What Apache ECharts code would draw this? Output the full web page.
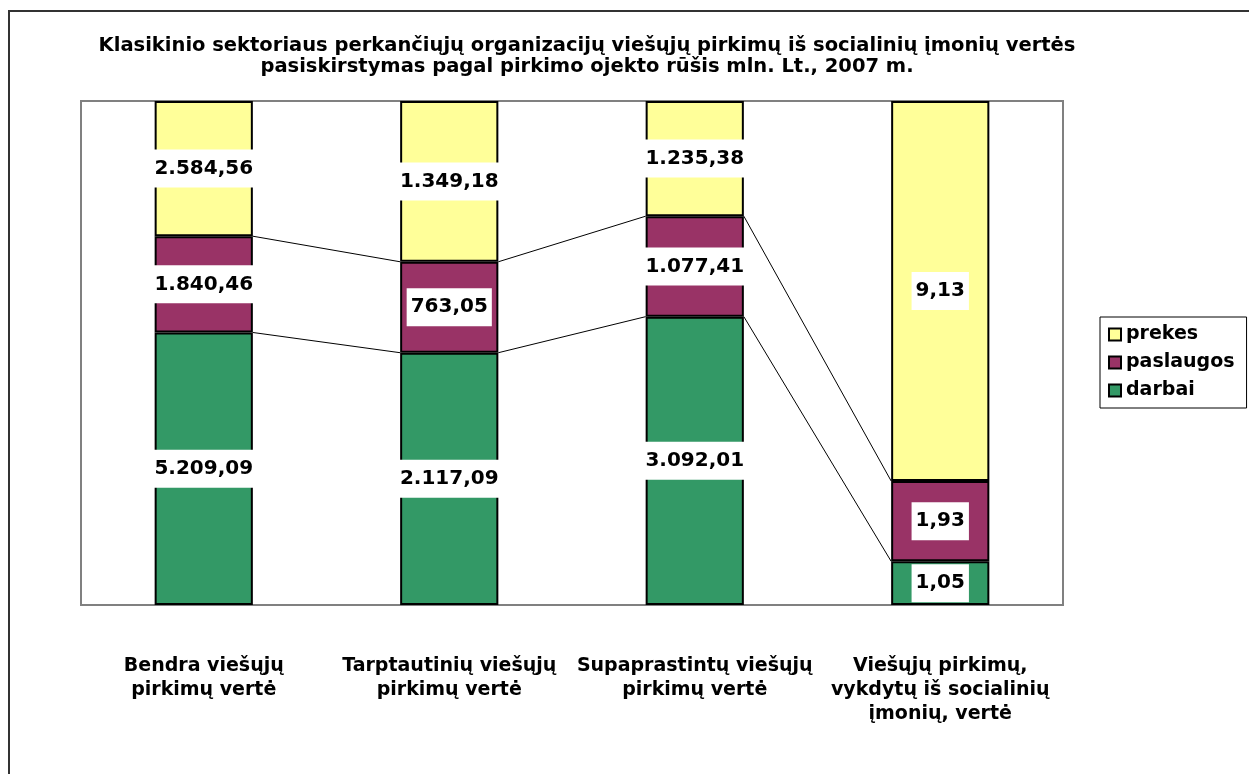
<!DOCTYPE html>
<html>
<head>
<meta charset="utf-8">
<script src="https://cdn.jsdelivr.net/npm/echarts@6/dist/echarts.min.js"></script>
<style>
  html, body { margin: 0; padding: 0; background: #fff; }
  #chart { width: 1249px; height: 774px; }
</style>
</head>
<body>
<div id="chart"></div>
<script>
// kategorijos
const categories = [
  'Bendra viešųjų\npirkimų vertė',
  'Tarptautinių viešųjų\npirkimų vertė',
  'Supaprastintų viešųjų\npirkimų vertė',
  'Viešųjų pirkimų,\nvykdytų iš socialinių\nįmonių, vertė'
]
// mln. Lt
const darbai = [5209.09, 2117.09, 3092.01, 1.05]
const paslaugos = [1840.46, 763.05, 1077.41, 1.93]
const prekes = [2584.56, 1349.18, 1235.38, 9.13]

const FONT = 'DejaVu Sans'

// lietuviškas skaičių formatas 2.584,56
function fmt(v) {
  const parts = v.toFixed(2).split('.')
  const int = parts[0].replace(/\B(?=(\d{3})+(?!\d))/g, '.')
  return int + ',' + parts[1]
}

// 100% stulpeliai
const totals = darbai.map((d, i) => d + paslaugos[i] + prekes[i])
function share(arr) {
  return arr.map((v, i) => ({ value: v / totals[i] * 100, raw: v }))
}

// jungiamosios linijos (serijų linijos)
const cum1 = darbai.map((d, i) => d / totals[i] * 100)
const cum2 = darbai.map((d, i) => (d + paslaugos[i]) / totals[i] * 100)
const connData = []
for (let i = 0; i < categories.length - 1; i++) {
  connData.push([i, cum1[i], cum1[i + 1]])
  connData.push([i, cum2[i], cum2[i + 1]])
}

const barLabel = {
  show: true,
  position: 'inside',
  formatter: p => fmt(p.data.raw),
  color: '#000',
  fontFamily: FONT,
  fontWeight: 'bold',
  fontSize: 20,
  lineHeight: 20,
  backgroundColor: '#fff',
  padding: [9, 4]
}

function barSeries(name, arr, color) {
  return {
    name: name,
    type: 'bar',
    stack: 'total',
    barWidth: '40%',
    data: share(arr),
    itemStyle: { color: color, borderColor: '#000', borderWidth: 2 },
    label: barLabel,
    emphasis: { disabled: true }
  }
}

const chart = echarts.init(document.getElementById('chart'))
chart.setOption({
  animation: false,
  title: {
    text: 'Klasikinio sektoriaus perkančiųjų organizacijų viešųjų pirkimų iš socialinių įmonių vertės\npasiskirstymas pagal pirkimo ojekto rūšis mln. Lt., 2007 m.',
    left: 582,
    top: 30,
    textAlign: 'center',
    textStyle: {
      fontFamily: FONT,
      fontWeight: 'bold',
      fontSize: 19.5,
      lineHeight: 21,
      color: '#000'
    }
  },
  graphic: [{
    type: 'rect',
    shape: { x: 9, y: 11, width: 1300, height: 800 },
    style: { fill: 'none', stroke: '#333', lineWidth: 2 },
    silent: true
  }],
  legend: {
    orient: 'vertical',
    left: 1100,
    top: 317,
    data: ['prekes', 'paslaugos', 'darbai'],
    icon: 'rect',
    itemWidth: 12,
    itemHeight: 12,
    itemGap: 9,
    padding: [8, 12, 8, 8],
    borderColor: '#000',
    borderWidth: 1,
    borderRadius: 0,
    itemStyle: { borderColor: '#000', borderWidth: 2 },
    textStyle: { fontFamily: FONT, fontWeight: 'bold', fontSize: 19, color: '#000' }
  },
  grid: {
    left: 81,
    top: 101,
    right: 186,
    bottom: 169,
    show: true,
    borderColor: '#808080',
    borderWidth: 2,
    backgroundColor: '#fff'
  },
  xAxis: {
    type: 'category',
    data: categories,
    axisLine: { show: false },
    axisTick: { show: false },
    axisLabel: {
      interval: 0,
      margin: 49,
      color: '#000',
      fontFamily: FONT,
      fontWeight: 'bold',
      fontSize: 19,
      lineHeight: 24,
      verticalAlign: 'top'
    }
  },
  yAxis: {
    type: 'value',
    min: 0,
    max: 100,
    show: false,
    splitLine: { show: false }
  },
  series: [
    barSeries('darbai', darbai, '#339966'),
    barSeries('paslaugos', paslaugos, '#993366'),
    barSeries('prekes', prekes, '#FFFF99'),
    {
      type: 'custom',
      silent: true,
      z: 5,
      data: connData,
      renderItem: function(params, api) {
        const i = api.value(0)
        const half = api.size([1, 0])[0] * 0.2
        const p1 = api.coord([i, api.value(1)])
        const p2 = api.coord([i + 1, api.value(2)])
        return {
          type: 'line',
          shape: { x1: p1[0] + half, y1: p1[1], x2: p2[0] - half, y2: p2[1] },
          style: { stroke: '#000', lineWidth: 1 }
        }
      }
    }
  ]
})
</script>
</body>
</html>
